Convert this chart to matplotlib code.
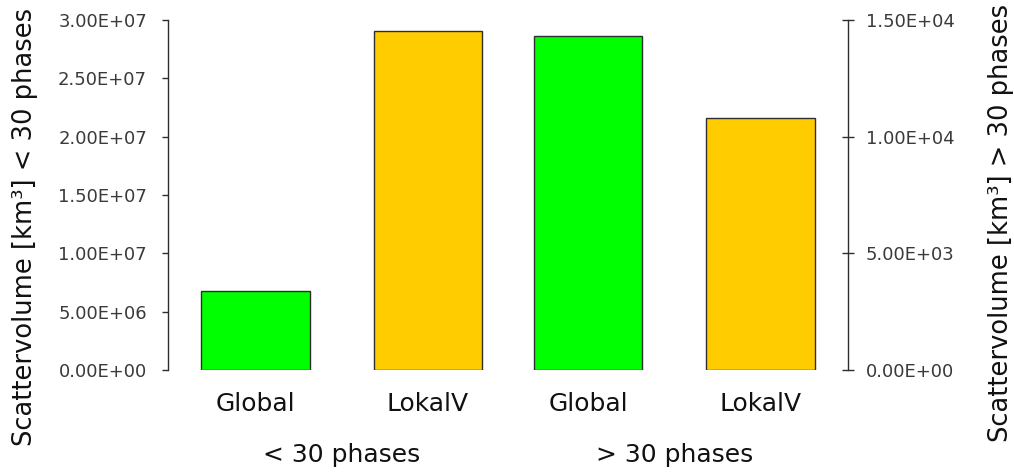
import numpy as np
import matplotlib
matplotlib.use("Agg")
import matplotlib.pyplot as plt
from matplotlib.ticker import FormatStrFormatter, MultipleLocator
from matplotlib.transforms import blended_transform_factory

# Data
categories = ["Global", "LokalV", "Global", "LokalV"]
groups = ["< 30 phases", "> 30 phases"]
volume_below30 = [6.8e6, 2.91e7]      # km^3, left axis
volume_above30 = [1.43e4, 1.08e4]     # km^3, right axis
bar_colors = ["#00ff00", "#ffcc00"]

plt.rcParams["font.family"] = ["DejaVu Sans"]

fig = plt.figure(figsize=(10.14, 4.74), dpi=100)
ax = fig.add_axes([168 / 1014, 104 / 474, 680 / 1014, 350 / 474])
ax2 = ax.twinx()

# Bar layout: two bars per group, groups slightly closer than bars inside a group
group_step = 1.925
width = 0.63
group_centers = np.array([0.5, 0.5 + group_step])
pos_below = group_centers[0] + np.array([-0.5, 0.5])
pos_above = group_centers[1] + np.array([-0.5, 0.5])

edge = "#2e2e2e"
ax.bar(pos_below, volume_below30, width=width, color=bar_colors,
       edgecolor=edge, linewidth=1.0, zorder=3)
ax2.bar(pos_above, volume_above30, width=width, color=bar_colors,
        edgecolor=edge, linewidth=1.0, zorder=3)

ax.set_xlim(-0.503, 3.428)
ax.set_ylim(0, 3.0e7)
ax2.set_ylim(0, 1.5e4)

ax.yaxis.set_major_locator(MultipleLocator(5e6))
ax2.yaxis.set_major_locator(MultipleLocator(5e3))
ax.yaxis.set_major_formatter(FormatStrFormatter("%.2E"))
ax2.yaxis.set_major_formatter(FormatStrFormatter("%.2E"))

tick_col = "#3a3a3a"
for a in (ax, ax2):
    for s in ("top", "bottom"):
        a.spines[s].set_visible(False)
ax.spines["right"].set_visible(False)
ax2.spines["left"].set_visible(False)
ax.spines["left"].set_color(edge)
ax2.spines["right"].set_color(edge)
ax.spines["left"].set_linewidth(1.0)
ax2.spines["right"].set_linewidth(1.0)

ax.tick_params(axis="y", direction="out", length=4.3, width=1.0, color=edge,
               pad=10.8, labelsize=13, labelcolor=tick_col)
ax2.tick_params(axis="y", direction="inout", length=8.6, width=1.0, color=edge,
                pad=8.6, labelsize=13, labelcolor=tick_col)

# Category labels under the bars
ax.set_xticks(np.concatenate([pos_below, pos_above]))
ax.set_xticklabels(categories, fontsize=18, color="#111111")
ax.tick_params(axis="x", length=0, pad=16)
ax2.tick_params(axis="x", length=0)

# Group labels
trans = blended_transform_factory(ax.transData, fig.transFigure)
for gc, g in zip(group_centers, groups):
    ax.text(gc, 1 - 455 / 474, g, transform=trans, ha="center", va="center",
            fontsize=18, color="#111111")

ax.set_ylabel("Scattervolume [km³] < 30 phases", fontsize=18.5, color="#111111")
ax.yaxis.set_label_coords(-0.191, 0.409)
ax2.set_ylabel("Scattervolume [km³] > 30 phases", fontsize=18.5, color="#111111",
               rotation=90)
ax2.yaxis.set_label_coords(1.2059, 0.42)

fig.savefig("out.png", dpi=100)
